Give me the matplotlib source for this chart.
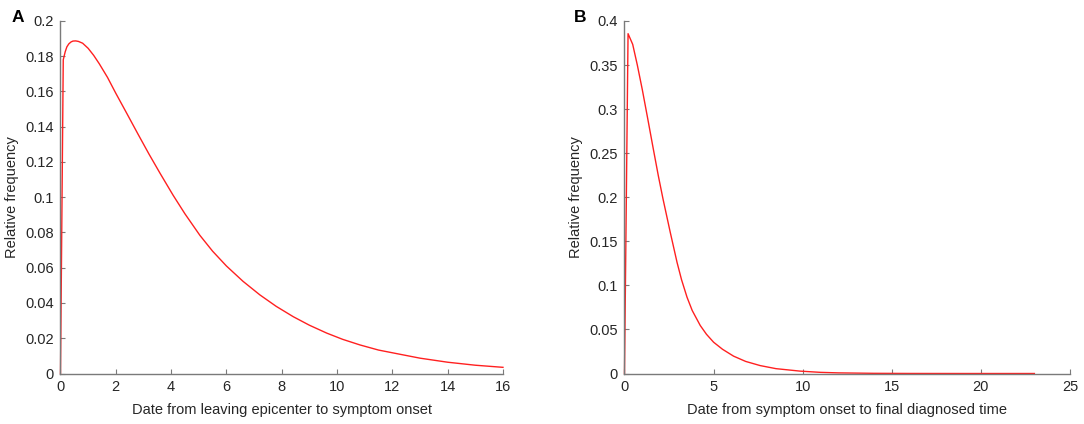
import matplotlib
matplotlib.use('Agg')
import matplotlib.pyplot as plt
from matplotlib.ticker import FuncFormatter

plt.rcParams['font.family'] = ['Liberation Sans', 'DejaVu Sans']

# panel A: leaving epicenter -> symptom onset
a_x = [0, 0.1, 0.17, 0.23, 0.3, 0.38, 0.45, 0.55, 0.65, 0.8, 1.0, 1.2, 1.4, 1.7,
       2.0, 2.4, 2.8, 3.2, 3.6, 4.07, 4.5, 5.04, 5.5, 6.0, 6.6, 7.21, 7.8, 8.42,
       9.0, 9.63, 10.2, 10.83, 11.5, 12.28, 13, 14, 15, 16]
a_y = [0, 0.178, 0.1825, 0.1853, 0.1870, 0.1881, 0.1886, 0.1887, 0.1884, 0.1874,
       0.1845, 0.1805, 0.1758, 0.168, 0.159, 0.1475, 0.1359, 0.1245, 0.1136, 0.1012,
       0.0906, 0.0784, 0.0694, 0.061, 0.0523, 0.0446, 0.0381, 0.0322, 0.0274, 0.0229,
       0.0194, 0.0162, 0.0133, 0.0109, 0.0087, 0.0064, 0.0047, 0.0035]

# panel B: symptom onset -> final diagnosed time
b_x = [0, 0.2, 0.46, 0.72, 1.0, 1.3, 1.6, 1.9, 2.16, 2.57, 2.95, 3.2, 3.51, 3.8,
       4.25, 4.6, 5.0, 5.5, 6.12, 6.8, 7.61, 8.5, 9.85, 11, 12, 14, 16, 19, 23]
b_y = [0, 0.3856, 0.3735, 0.35, 0.322, 0.2896, 0.2566, 0.2242, 0.1982, 0.160,
       0.126, 0.1065, 0.0865, 0.0715, 0.0545, 0.0445, 0.0355, 0.0275, 0.0197, 0.0137,
       0.0090, 0.0055, 0.0027, 0.0013, 0.0007, 0.0002, 0.00005, 0, 0]

a_xticks = [0, 2, 4, 6, 8, 10, 12, 14, 16]
a_yticks = [0, 0.02, 0.04, 0.06, 0.08, 0.1, 0.12, 0.14, 0.16, 0.18, 0.2]
b_xticks = [0, 5, 10, 15, 20, 25]
b_yticks = [0, 0.05, 0.1, 0.15, 0.2, 0.25, 0.3, 0.35, 0.4]

axis_col = '#7a7a7a'
text_col = '#262626'

fig = plt.figure(figsize=(10.84, 4.24), dpi=100)
axA = fig.add_axes([0.0558, 0.1191, 0.4082, 0.8314])
axB = fig.add_axes([0.5761, 0.1191, 0.4110, 0.8314])


def style(ax, xt, yt, xlab):
    ax.spines['top'].set_visible(False)
    ax.spines['right'].set_visible(False)
    for s in ['left', 'bottom']:
        ax.spines[s].set_color(axis_col)
        ax.spines[s].set_linewidth(1.0)
    ax.set_xticks(xt)
    ax.set_yticks(yt)
    ax.set_xlim(xt[0], xt[-1])
    ax.set_ylim(yt[0], yt[-1])
    ax.tick_params(direction='in', length=3.5, width=0.8, color=axis_col,
                   labelcolor=text_col, labelsize=10.5, pad=5)
    ax.yaxis.set_major_formatter(FuncFormatter(lambda v, p: '%g' % round(v, 4)))
    ax.set_xlabel(xlab, fontsize=10.5, color=text_col, labelpad=6)
    ax.set_ylabel('Relative frequency', fontsize=10.5, color=text_col, labelpad=4)


axA.plot(a_x, a_y, color='#ff2020', linewidth=1.0, clip_on=False)
style(axA, a_xticks, a_yticks, 'Date from leaving epicenter to symptom onset')

axB.plot(b_x, b_y, color='#ff2020', linewidth=1.0, clip_on=False)
style(axB, b_xticks, b_yticks, 'Date from symptom onset to final diagnosed time')

fig.text(0.011, 0.958, 'A', fontsize=12.5, fontweight='bold', va='center')
fig.text(0.529, 0.958, 'B', fontsize=12.5, fontweight='bold', va='center')

fig.savefig('out.png', dpi=100)
